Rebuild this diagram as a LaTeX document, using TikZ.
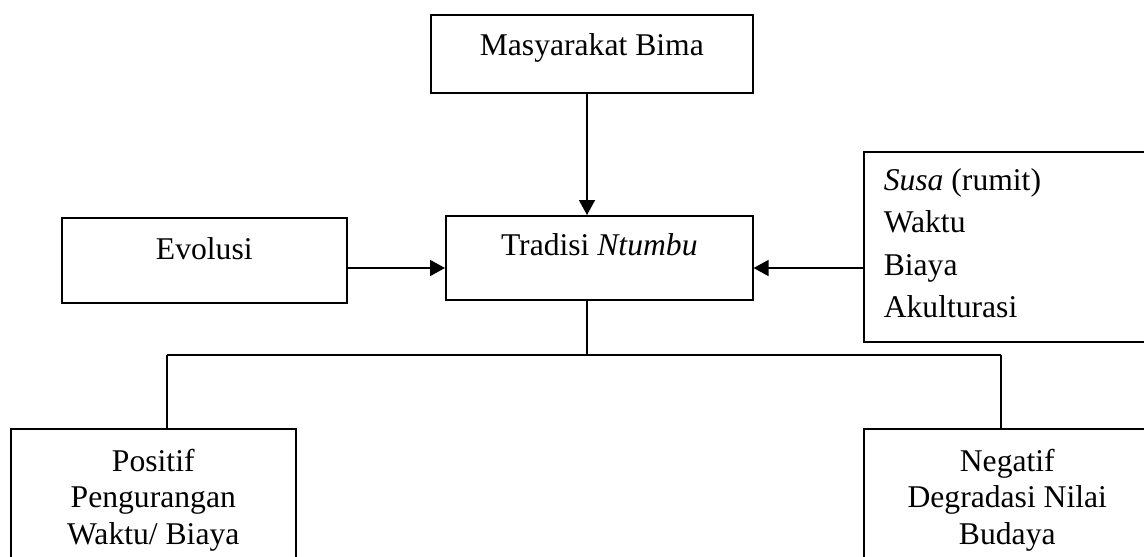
\documentclass[tikz,border=0pt]{standalone}
\usepackage{fontspec}
\setmainfont{Liberation Serif}
\usepackage{tikz}
\usetikzlibrary{arrows.meta,calc}

% box contents: width, height, space above first line, text
\newcommand{\isitengah}[4]{\parbox[t][#2][t]{#1}{\centering\vspace*{#3}#4}}
\newcommand{\isikiri}[4]{\parbox[t][#2][t]{#1}{\raggedright\leftskip=0.40cm\vspace*{#3}#4}}

\begin{document}
\begin{tikzpicture}[
    kotak/.style={rectangle, draw=black, line width=0.9pt, inner sep=0pt,
        anchor=north west, font=\fontsize{18}{21}\selectfont},
    kotaklist/.style={kotak, font=\fontsize{18}{24}\selectfont},
    garis/.style={line width=0.9pt, black},
    panah/.style={-{Triangle[length=3.0mm, width=3.2mm]}, line width=0.9pt, black}
]
    \useasboundingbox (0,0) rectangle (22.88,-11.14);
    \clip (0,0) rectangle (22.88,-11.14);

    \node[kotak] (masyarakat) at (8.60,-0.28)
        {\isitengah{6.44cm}{1.56cm}{0.38cm}{Masyarakat Bima}};
    \node[kotak] (tradisi) at (8.90,-4.30)
        {\isitengah{6.14cm}{1.68cm}{0.36cm}{Tradisi \textit{Ntumbu}}};
    \node[kotak] (evolusi) at (1.22,-4.34)
        {\isitengah{5.70cm}{1.70cm}{0.40cm}{Evolusi}};
    \node[kotaklist] (faktor) at (17.26,-3.02)
        {\isikiri{5.76cm}{3.80cm}{0.34cm}{\textit{Susa} (rumit)\\ Waktu\\ Biaya\\ Akulturasi}};
    \node[kotak] (positif) at (0.20,-8.56)
        {\isitengah{5.70cm}{3.00cm}{0.40cm}{Positif\\ Pengurangan\\ Waktu/ Biaya}};
    \node[kotak] (negatif) at (17.26,-8.56)
        {\isitengah{5.74cm}{3.00cm}{0.40cm}{Negatif\\ Degradasi Nilai\\ Budaya}};

    % branch points
    \coordinate (tengah) at (11.74,-7.10);
    \coordinate (cabangkiri) at (3.34,-7.10);
    \coordinate (cabangkanan) at (20.02,-7.10);
    \coordinate (sumbu) at (0,-5.36);

    \draw[panah] (masyarakat.south -| tengah) -- (tradisi.north -| tengah);
    \draw[panah] (evolusi.east |- sumbu) -- (tradisi.west |- sumbu);
    \draw[panah] (faktor.west |- sumbu) -- (tradisi.east |- sumbu);

    \draw[garis] (tradisi.south -| tengah) -- (tengah);
    \draw[garis] (cabangkiri) -- (cabangkanan);
    \draw[garis] (cabangkiri) -- (cabangkiri |- positif.north);
    \draw[garis] (cabangkanan) -- (cabangkanan |- negatif.north);
\end{tikzpicture}
\end{document}
